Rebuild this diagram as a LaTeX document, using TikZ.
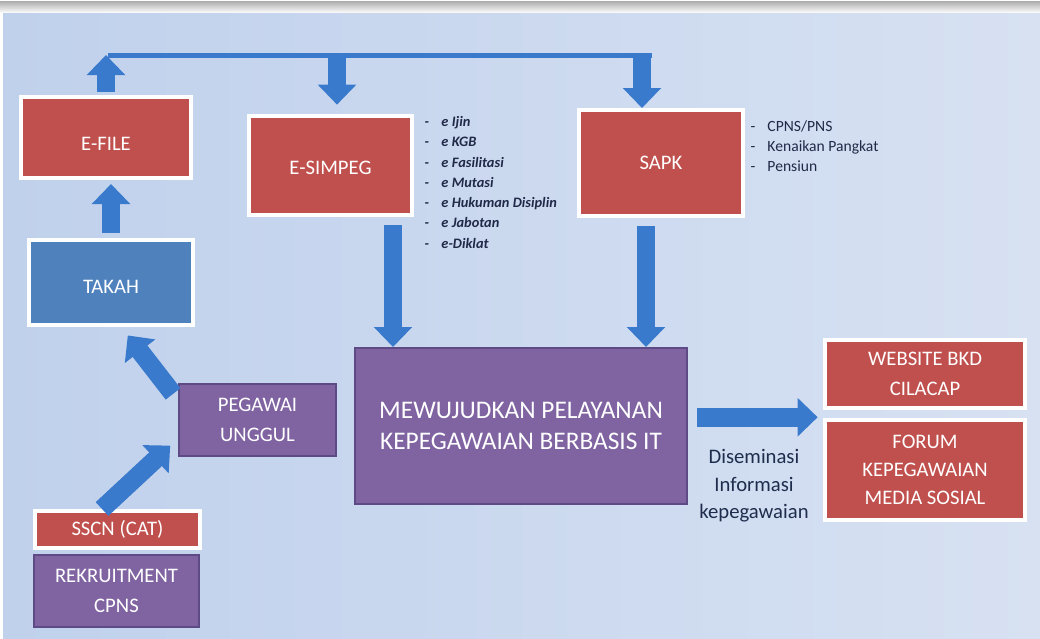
\documentclass[tikz,border=0pt]{standalone}
\usepackage{fontspec}
\setmainfont{Carlito}
\usetikzlibrary{arrows.meta,shadows}

\definecolor{boxred}{RGB}{192,80,77}
\definecolor{boxblue}{RGB}{79,129,189}
\definecolor{boxpurple}{RGB}{128,100,162}
\definecolor{purpleedge}{RGB}{94,74,133}
\definecolor{arrowblue}{RGB}{58,122,204}
\definecolor{listtext}{RGB}{32,42,72}
\definecolor{distext}{RGB}{31,45,77}
\definecolor{bgleft}{RGB}{192,209,236}
\definecolor{bgmid}{RGB}{186,205,235}
\definecolor{bgright}{RGB}{215,225,242}

\tikzset{every picture/.style={line width=0.75pt}}
\tikzset{
  redbox/.style={draw=white, line width=3pt, fill=boxred, text=white, align=center, inner sep=0pt,
    font=\fontsize{15.5}{22}\selectfont, drop shadow={opacity=0.25,shadow xshift=1pt,shadow yshift=-1pt}},
  bluebox/.style={redbox, fill=boxblue},
  purplebox/.style={draw=purpleedge, line width=1.5pt, fill=boxpurple, text=white, align=center, inner sep=0pt,
    font=\fontsize{15.5}{22}\selectfont},
  flowarrow/.style={draw=arrowblue, line width=14pt, -{Triangle[width=28pt,length=15pt]}},
  busline/.style={draw=arrowblue, line width=3.75pt},
  itemlist/.style={anchor=north west, align=left, inner sep=0pt, text=listtext}
}
\newcommand{\dashitem}[1]{\makebox[12.75pt][l]{-}#1}

\begin{document}
\begin{tikzpicture}[x=0.75pt,y=0.75pt,yscale=-1,xscale=1]
	\useasboundingbox (0,0) rectangle (1040,639);
	
	%Shape: Background
	\fill[white] (0,0) rectangle (1040,639);
	\shade[top color=gray!65, bottom color=white] (0,1) rectangle (1040,13);
	\shade[left color=bgleft, middle color=bgmid, right color=bgright] (3,13) rectangle (1040,639);
	
	%Shape: Rectangle
	\node[redbox, minimum width=127.5pt, minimum height=60.75pt, text height=20pt, text depth=0pt] (efile) at (106,137.5) {E-FILE};
	%Shape: Rectangle
	\node[bluebox, minimum width=123pt, minimum height=63.75pt, text height=17pt, text depth=0pt] (takah) at (111,282.5) {TAKAH};
	%Shape: Rectangle
	\node[redbox, minimum width=122.25pt, minimum height=74.25pt, text height=14pt, text depth=0pt] (esimpeg) at (330.5,165.5) {E-SIMPEG};
	%Shape: Rectangle
	\node[redbox, minimum width=123pt, minimum height=79.5pt] (sapk) at (661,163) {SAPK};
	%Shape: Rectangle
	\node[purplebox, minimum width=249pt, minimum height=117pt, font=\fontsize{19}{23.25}\selectfont] (main) at (521,426) {MEWUJUDKAN PELAYANAN\\KEPEGAWAIAN BERBASIS IT};
	%Shape: Rectangle
	\node[purplebox, minimum width=117.75pt, minimum height=54pt] (pegawai) at (257.5,420) {PEGAWAI\\UNGGUL};
	%Shape: Rectangle
	\node[redbox, minimum width=123.75pt, minimum height=27.75pt] (sscn) at (117.5,529.5) {SSCN (CAT)};
	%Shape: Rectangle
	\node[purplebox, minimum width=123.75pt, minimum height=54pt] (rekrut) at (116.5,591) {REKRUITMENT\\CPNS};
	%Shape: Rectangle
	\node[redbox, minimum width=150pt, minimum height=51pt] (website) at (925,374) {WEBSITE BKD\\CILACAP};
	%Shape: Rectangle
	\node[redbox, minimum width=150pt, minimum height=75pt, font=\fontsize{15.5}{21}\selectfont] (forum) at (925,470) {FORUM\\KEPEGAWAIAN\\MEDIA SOSIAL};
	
	% Text Node
	\node[itemlist, font=\fontsize{10.8}{15.2}\selectfont\bfseries\itshape] (simpeglist) at (424,116)
	  {\dashitem{e Ijin}\\ \dashitem{e KGB}\\ \dashitem{e Fasilitasi}\\ \dashitem{e Mutasi}\\
	   \dashitem{e Hukuman Disiplin}\\ \dashitem{e Jabotan}\\ \dashitem{e-Diklat}};
	% Text Node
	\node[itemlist, font=\fontsize{11.7}{15}\selectfont] (sapklist) at (750,120)
	  {\dashitem{CPNS/PNS}\\ \dashitem{Kenaikan Pangkat}\\ \dashitem{Pensiun}};
	% Text Node
	\node[align=center, inner sep=0pt, text=distext, font=\fontsize{15.5}{20.6}\selectfont] (dis) at (754,486) {Diseminasi\\Informasi\\kepegawaian};
	
	%Straight Lines
	\coordinate (busL) at (108,55);
	\coordinate (busA) at (337,55);
	\coordinate (busB) at (642,55);
	\coordinate (busR) at (652,55);
	\coordinate (inA) at (393,347);
	\coordinate (inB) at (646,347);
	\draw[busline] (busL) -- (busR);
	\draw[flowarrow, shorten <=2pt] (efile.north) -- (efile.north |- busL);
	\draw[flowarrow, shorten >=7pt] (busA) -- (busA |- esimpeg.north);
	\draw[flowarrow] (busB) -- (busB |- sapk.north);
	\draw[flowarrow, shorten <=4pt, shorten >=3pt] (takah.north) -- (takah.north |- efile.south);
	\draw[flowarrow, shorten <=6pt] (esimpeg.south -| inA) -- (inA);
	\draw[flowarrow, shorten <=6pt] (sapk.south -| inB) -- (inB);
	\draw[flowarrow, shorten <=6pt, shorten >=8pt] (pegawai.166) -- (takah.-77);
	\draw[flowarrow, shorten >=8pt] (sscn.127) -- (pegawai.193);
	\draw[flowarrow, shorten <=7pt, shorten >=4pt] (main.3) -- (main.3 -| website.west);
	
\end{tikzpicture}
\end{document}
